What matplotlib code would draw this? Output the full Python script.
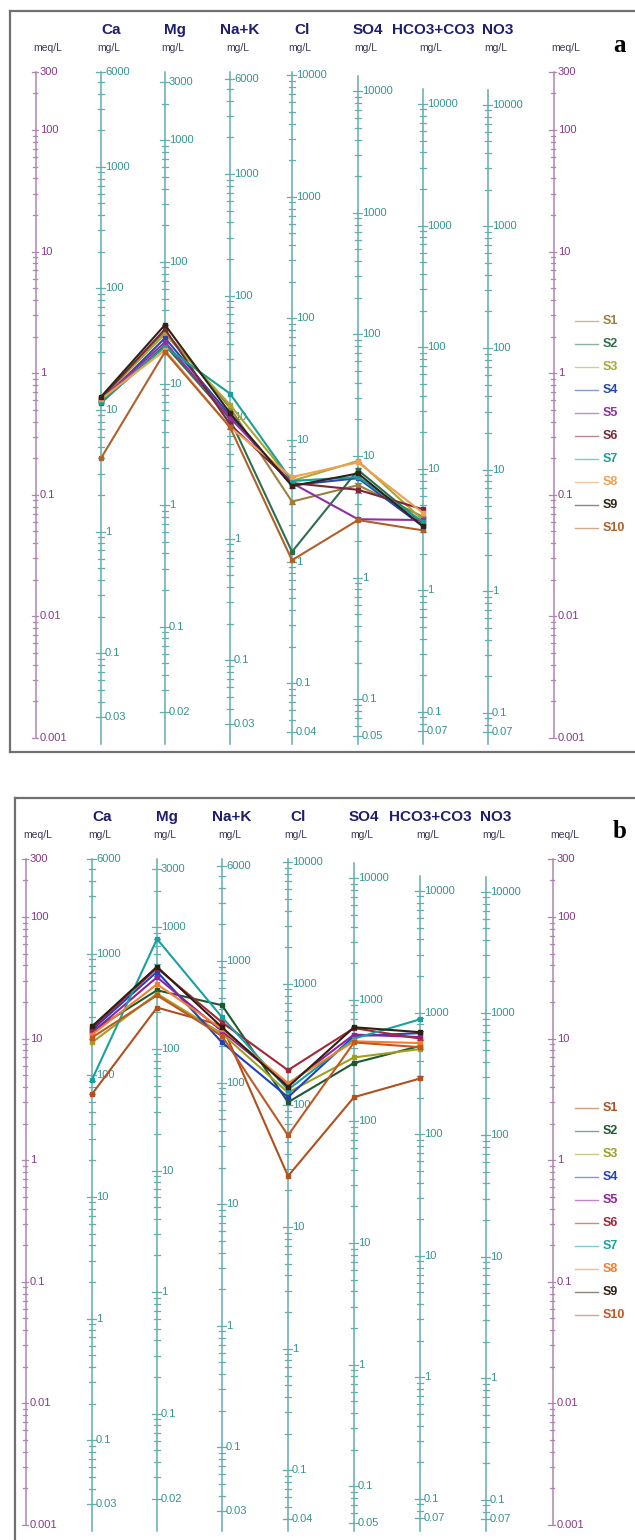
import numpy as np
import matplotlib.pyplot as plt

plt.rcParams['font.family'] = ['Liberation Sans', 'DejaVu Sans']

W, H, DPI = 635, 1540, 100
DEC = 121.6          # pixels per decade of meq/L

ions = ['Ca', 'Mg', 'Na+K', 'Cl', 'SO4', 'HCO3+CO3', 'NO3']
eq_weight = [20.04, 12.15, 22.99, 35.45, 48.03, 61.02, 62.00]
mg_labels = [
    [6000, 1000, 100, 10, 1, 0.1, 0.03],
    [3000, 1000, 100, 10, 1, 0.1, 0.02],
    [6000, 1000, 100, 10, 1, 0.1, 0.03],
    [10000, 1000, 100, 10, 1, 0.1, 0.04],
    [10000, 1000, 100, 10, 1, 0.1, 0.05],
    [10000, 1000, 100, 10, 1, 0.1, 0.07],
    [10000, 1000, 100, 10, 1, 0.1, 0.07],
]
meq_labels = [300, 100, 10, 1, 0.1, 0.01, 0.001]
samples = ['S1', 'S2', 'S3', 'S4', 'S5', 'S6', 'S7', 'S8', 'S9', 'S10']

# meq/L for Ca, Mg, Na+K, Cl, SO4, HCO3+CO3 (no NO3 data)
meq_a = [
    [0.60, 2.20, 0.52, 0.088, 0.12, 0.066],
    [0.57, 1.70, 0.42, 0.034, 0.16, 0.058],
    [0.62, 2.10, 0.55, 0.130, 0.19, 0.062],
    [0.58, 1.95, 0.45, 0.120, 0.137, 0.055],
    [0.60, 1.80, 0.43, 0.125, 0.063, 0.062],
    [0.62, 2.30, 0.38, 0.125, 0.11, 0.076],
    [0.58, 1.65, 0.68, 0.130, 0.14, 0.060],
    [0.61, 1.55, 0.36, 0.140, 0.185, 0.071],
    [0.64, 2.50, 0.47, 0.118, 0.15, 0.055],
    [0.20, 1.50, 0.36, 0.029, 0.062, 0.051],
]
meq_b = [
    [3.5, 18.0, 12.8, 0.74, 3.3, 4.7],
    [11.5, 25.0, 18.8, 3.0, 6.3, 8.7],
    [9.3, 23.4, 11.0, 3.6, 7.0, 8.2],
    [11.8, 35.5, 9.3, 3.3, 10.5, 11.1],
    [11.2, 32.0, 11.5, 4.2, 10.8, 10.3],
    [12.2, 38.0, 13.6, 5.5, 12.2, 10.0],
    [4.6, 66.0, 15.0, 3.8, 10.0, 14.4],
    [10.8, 28.0, 12.0, 4.3, 9.5, 9.2],
    [12.6, 39.0, 12.4, 4.0, 12.4, 11.3],
    [10.2, 22.7, 10.5, 1.6, 9.3, 8.5],
]

colors_a = ['#9c8040', '#2e6e4e', '#a8a830', '#2848b0', '#8e30a0',
            '#7a2838', '#1a9e96', '#f0a050', '#2e2418', '#b0602a']
colors_b = ['#b0501e', '#1e5a30', '#a0a020', '#2040c0', '#9020a0',
            '#a02838', '#1aa0a0', '#f08030', '#2e2014', '#c05820']

ION_LINE = '#62aeab'
ION_TEXT = '#35948f'
MEQ_LINE = '#b084b0'
MEQ_TEXT = '#863a86'
HEAD = '#1e1e6e'
UNIT = '#3a3a55'

fig = plt.figure(figsize=(W / DPI, H / DPI), dpi=DPI)


def log_ticks(lo, hi):
    out = []
    for k in range(-4, 6):
        for m in range(1, 10):
            v = m * 10.0 ** k
            if lo * 0.999 <= v <= hi * 1.001:
                out.append(v)
    return out


def fmt(v):
    return ('%g' % v)


def draw_panel(rect, xcols, y300, data, colors, letter):
    L, T, R, B = rect
    ax = fig.add_axes([L / W, 1 - B / H, (R - L) / W, (B - T) / H])
    ax.set_yscale('log')
    ax.set_xlim(L, R)
    ax.set_ylim(300 * 10 ** (-(B - y300) / DEC), 300 * 10 ** ((y300 - T) / DEC))
    ax.set_xticks([])
    ax.set_yticks([])
    ax.minorticks_off()
    for s in ax.spines.values():
        s.set_color('#707070')
        s.set_linewidth(1.6)

    def at(py):
        return 300 * 10 ** ((y300 - py) / DEC)

    # meq/L scales on both sides
    for xc in (xcols[0], xcols[-1]):
        ax.plot([xc, xc], [0.001, 300], color=MEQ_LINE, lw=1.1, zorder=1)
        for v in log_ticks(0.001, 300):
            h = 4.5 if v in meq_labels else 2.8
            ax.plot([xc - h, xc + h * 0.5], [v, v], color=MEQ_LINE, lw=0.9, zorder=1)
        for v in meq_labels:
            ax.text(xc + 4, v, fmt(v), color=MEQ_TEXT, fontsize=8,
                    ha='left', va='center')
        ax.text(xc + 12, at(y300 - 24), 'meq/L', color=UNIT, fontsize=7.5,
                ha='center', va='center')

    # one mg/L scale per ion
    for i, ion in enumerate(ions):
        xc = xcols[i + 1]
        eq = eq_weight[i]
        labs = mg_labels[i]
        top = min(300, labs[0] / eq * 10 ** (15 / DEC))
        ax.plot([xc, xc], [0.0009, top], color=ION_LINE, lw=1.1, zorder=1)
        for v in log_ticks(labs[-1], labs[0]):
            h = 4.5 if v in labs else 2.8
            ax.plot([xc - h, xc + h], [v / eq, v / eq], color=ION_LINE,
                    lw=0.9, zorder=1)
        for v in labs:
            ax.text(xc + 4, v / eq, fmt(v), color=ION_TEXT, fontsize=8,
                    ha='left', va='center')
        ax.text(xc + 10, at(y300 - 42), ion, color=HEAD, fontsize=11,
                fontweight='bold', ha='center', va='center')
        ax.text(xc + 8, at(y300 - 24), 'mg/L', color=UNIT, fontsize=7.5,
                ha='center', va='center')

    # sample lines, darkest drawn last
    xs = xcols[1:7]
    order = list(range(len(samples)))
    order.remove(8)
    order.append(8)
    for j in order:
        ax.plot(xs, data[j], color=colors[j], lw=1.5, marker='s', ms=3.2,
                zorder=3 + (j == 8))

    # legend
    for j, name in enumerate(samples):
        y = at(y300 + 249 + 23 * j)
        ax.plot([575, 598], [y, y], color=colors[j], lw=1.0, alpha=0.55)
        ax.text(603, y, name, color=colors[j], fontsize=9, fontweight='bold',
                ha='left', va='center')

    ax.text(620, at(y300 - 27), letter, fontsize=18, fontweight='bold',
            family=['Liberation Serif', 'DejaVu Serif'], ha='center', va='center')
    return ax


draw_panel((10, 11, 680, 752), [36, 101, 165, 230, 292, 358, 423, 488, 554],
           72, meq_a, colors_a, 'a')
draw_panel((15, 798, 680, 1548), [26, 92, 157, 222, 288, 354, 420, 486, 553],
           859, meq_b, colors_b, 'b')

fig.savefig('out.png', dpi=DPI, facecolor='white')
